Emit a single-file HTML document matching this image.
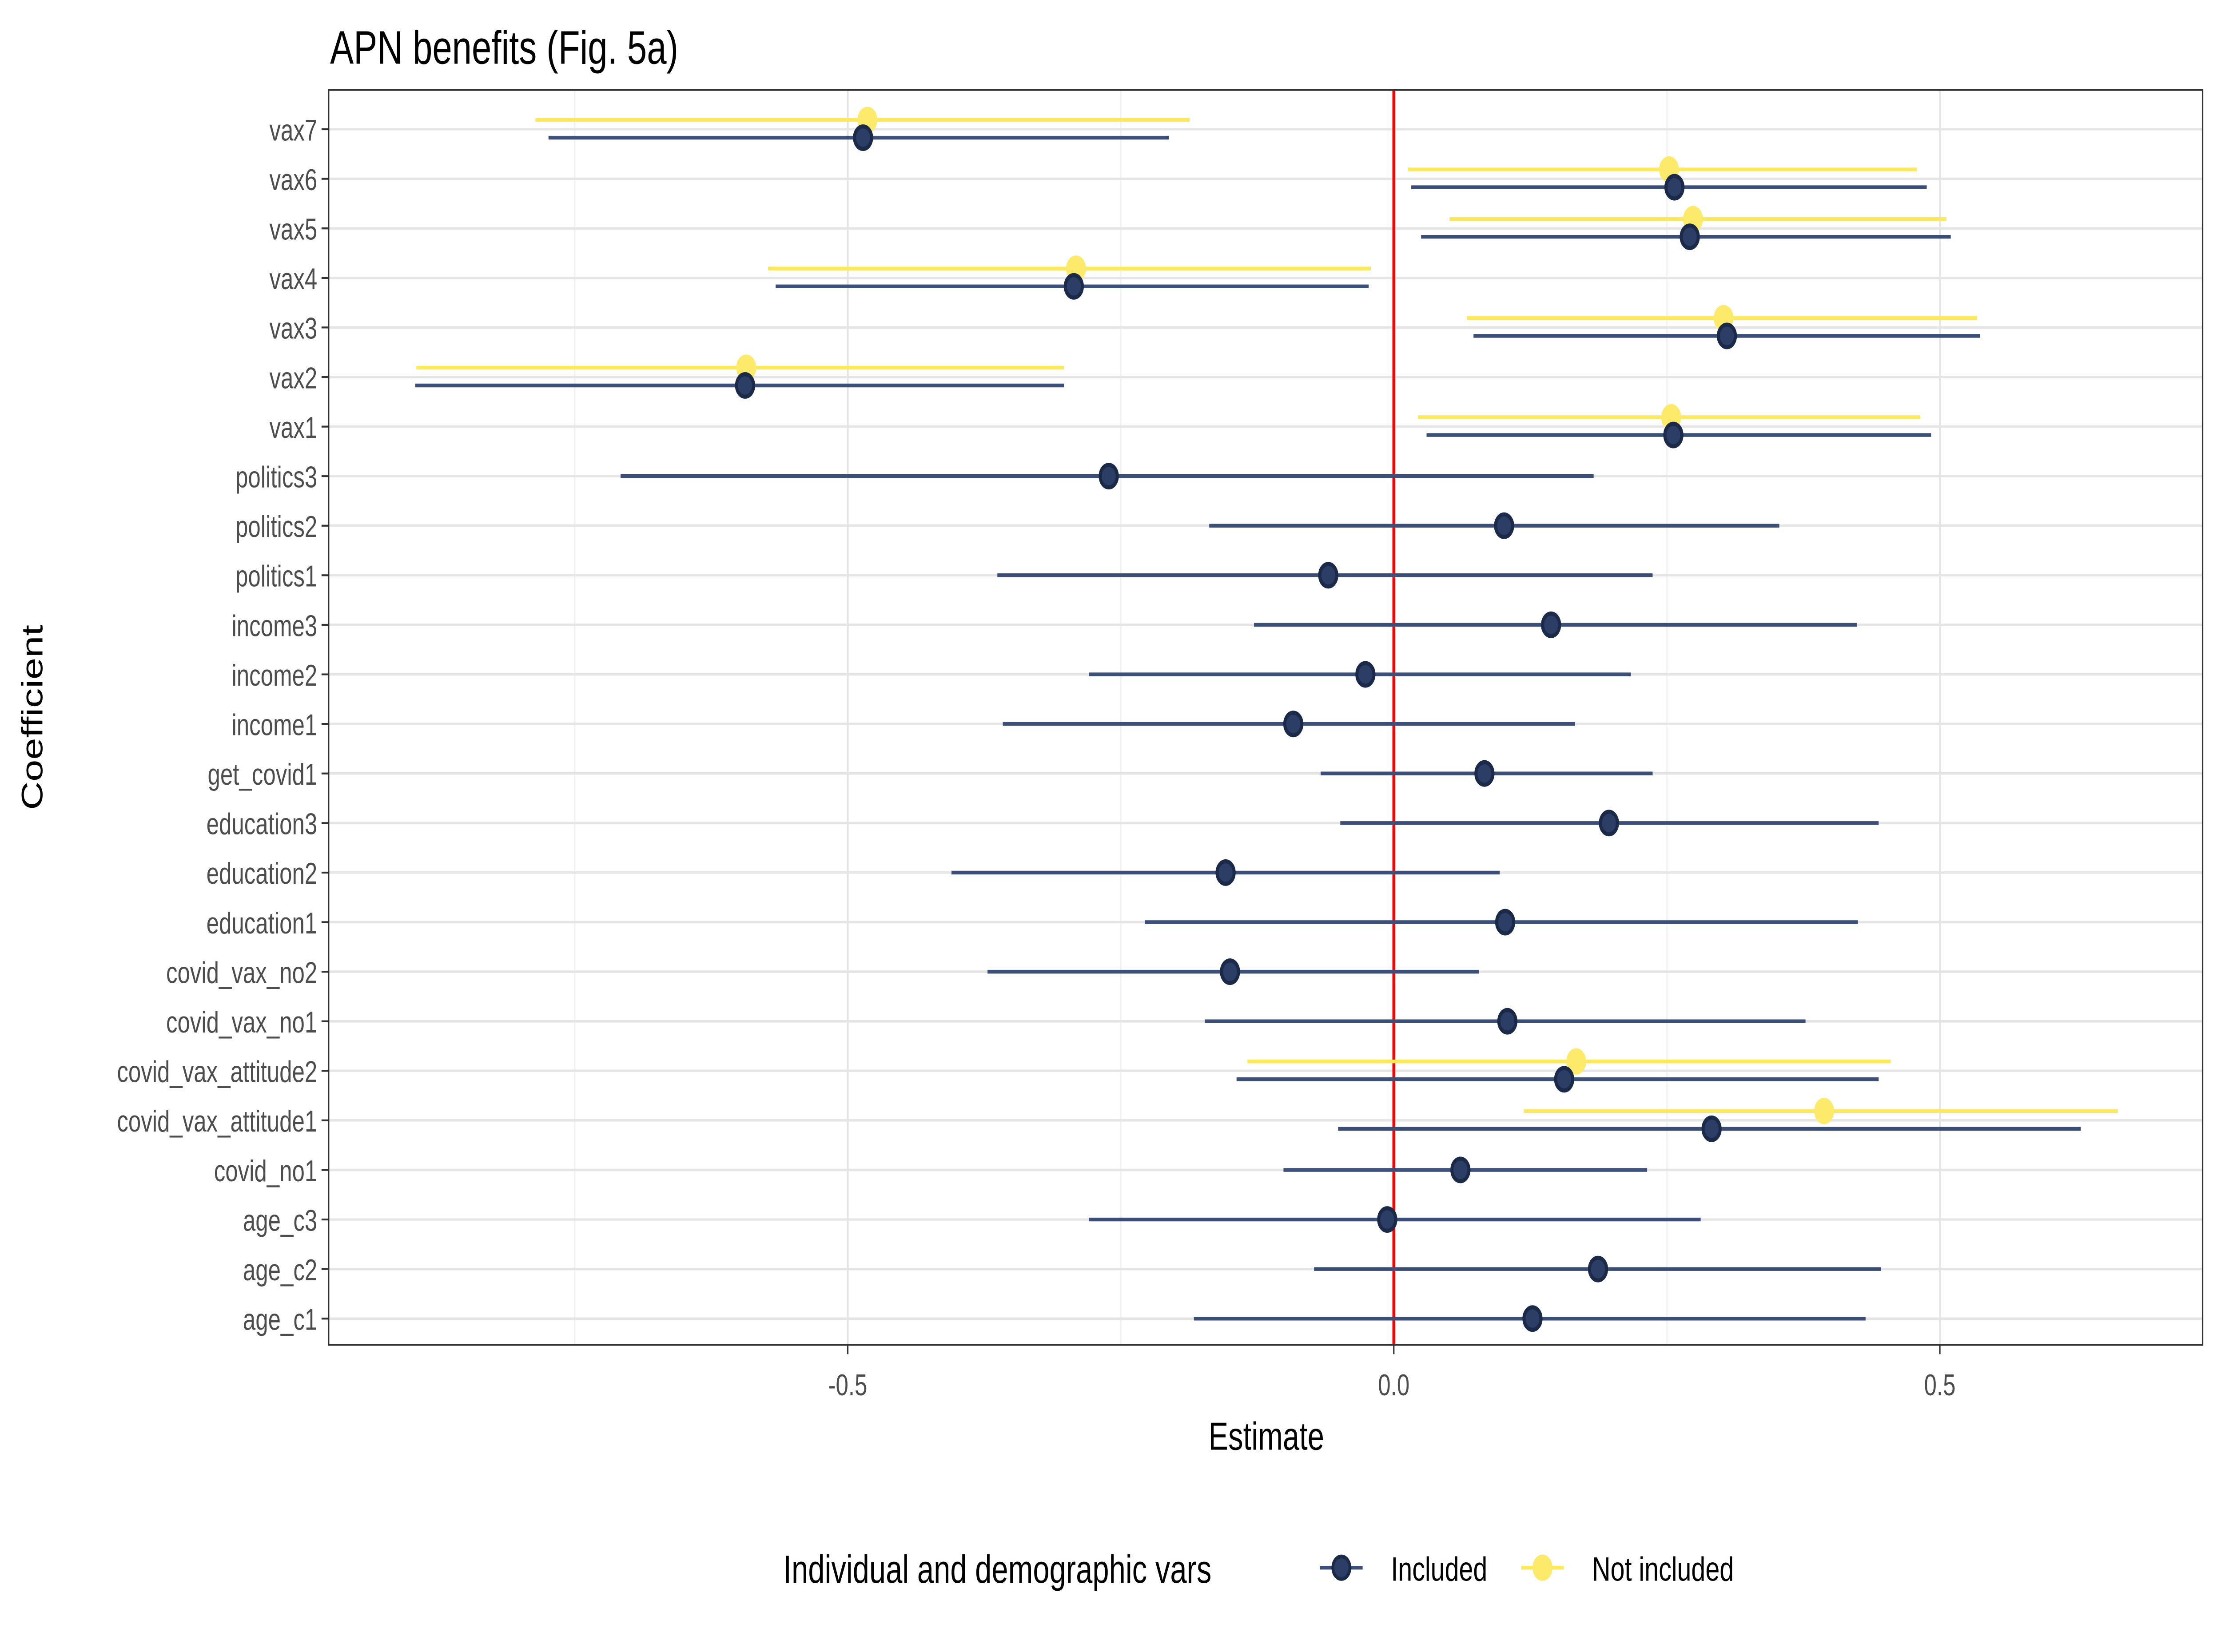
<!DOCTYPE html>
<html><head><meta charset="utf-8"><style>
html,body{margin:0;padding:0;background:#fff;width:100%;height:100%;overflow:hidden;}
svg{display:block;width:100vw;height:100vh;font-family:"Liberation Sans",Arial,sans-serif;}
</style></head><body>
<svg id="chart" viewBox="0 0 1568 882" preserveAspectRatio="none" xmlns="http://www.w3.org/2000/svg">
<rect x="0" y="0" width="1568" height="882" fill="#fff"/>
<text x="233" y="34" font-size="25" fill="#000">APN benefits (Fig. 5a)</text>
<g id="grid"></g>
<g id="marks"></g>
<rect x="232" y="48" width="1323" height="670" fill="none" stroke="#333" stroke-width="1"/>
<g id="axes"></g>
<text x="894" y="774" font-size="21" text-anchor="middle" fill="#000">Estimate</text>
<text transform="translate(30,383) rotate(-90)" font-size="21" text-anchor="middle" fill="#000">Coefficient</text>
<g>
<text x="553" y="845" font-size="21" fill="#000">Individual and demographic vars</text>
<g>
<line x1="932" y1="837" x2="962" y2="837" stroke="#3b4f79" stroke-width="2"/>
<circle cx="947" cy="837" r="6" fill="#2c3e66" stroke="#1c2a4a" stroke-width="2"/>
<text x="982" y="844" font-size="18" fill="#000">Included</text>
</g>
<g>
<line x1="1074" y1="837" x2="1104" y2="837" stroke="#fde95a" stroke-width="2"/>
<circle cx="1089" cy="837" r="7" fill="#fde96a"/>
<text x="1124" y="844" font-size="18" fill="#000">Not included</text>
</g>
</g>
</svg>
<script>
const categories=["age_c1","age_c2","age_c3","covid_no1","covid_vax_attitude1","covid_vax_attitude2","covid_vax_no1","covid_vax_no2","education1","education2","education3","get_covid1","income1","income2","income3","politics1","politics2","politics3","vax1","vax2","vax3","vax4","vax5","vax6","vax7"];
const incEst=[0.127,0.187,-0.006,0.061,0.291,0.156,0.104,-0.150,0.102,-0.154,0.197,0.083,-0.092,-0.026,0.144,-0.060,0.101,-0.261,0.256,-0.594,0.305,-0.293,0.271,0.257,-0.486];
const incLo=[-0.183,-0.073,-0.279,-0.101,-0.051,-0.144,-0.173,-0.372,-0.228,-0.405,-0.049,-0.067,-0.358,-0.279,-0.128,-0.363,-0.169,-0.708,0.030,-0.896,0.073,-0.566,0.025,0.016,-0.774];
const incHi=[0.432,0.446,0.281,0.232,0.629,0.444,0.377,0.078,0.425,0.097,0.444,0.237,0.166,0.217,0.424,0.237,0.353,0.183,0.492,-0.302,0.537,-0.023,0.510,0.488,-0.206];
const niCats=["covid_vax_attitude1","covid_vax_attitude2","vax1","vax2","vax3","vax4","vax5","vax6","vax7"];
const niEst=[0.394,0.167,0.254,-0.593,0.302,-0.291,0.274,0.252,-0.482];
const niLo=[0.119,-0.134,0.022,-0.895,0.067,-0.573,0.051,0.013,-0.786];
const niHi=[0.663,0.455,0.482,-0.302,0.534,-0.021,0.506,0.479,-0.187];
const xTicks=[-0.5,0,0.5];
const xTickLabels=["-0.5","0.0","0.5"];
const xMinor=[-0.75,-0.25,0.25];

const NS="http://www.w3.org/2000/svg";
const X=v=>984+v*771;
const Y=i=>704-i*26.458;
function mk(tag,attrs,parent){const e=document.createElementNS(NS,tag);for(const k in attrs)e.setAttribute(k,attrs[k]);parent.appendChild(e);return e;}
const grid=document.getElementById('grid'),marks=document.getElementById('marks'),axes=document.getElementById('axes');
xMinor.forEach(v=>{const l=mk('line',{x1:X(v),x2:X(v),y1:48,y2:718,stroke:'#f2f2f2','stroke-width':1},grid);

});
xTicks.forEach((v,i)=>{const l=mk('line',{x1:X(v),x2:X(v),y1:48,y2:718,stroke:'#e5e5e5','stroke-width':1.3},grid);


const t=mk('line',{x1:X(v),x2:X(v),y1:718,y2:723,stroke:'#333','stroke-width':1},axes);


const tx=mk('text',{x:X(v),y:745,'font-size':16,'text-anchor':'middle',fill:'#4d4d4d'},axes);tx.textContent=xTickLabels[i];

});
categories.forEach((c,i)=>{const l=mk('line',{x1:232,x2:1555,y1:Y(i),y2:Y(i),stroke:'#e5e5e5','stroke-width':1.3},grid);


const t=mk('line',{x1:227,x2:232,y1:Y(i),y2:Y(i),stroke:'#333','stroke-width':1},axes);


const tx=mk('text',{x:224,y:Y(i)+6,'font-size':16,'text-anchor':'end',fill:'#4d4d4d'},axes);tx.textContent=c;

});
const zl=mk('line',{x1:X(0),x2:X(0),y1:48,y2:718,stroke:'#ff0000','stroke-width':2},grid);


niCats.forEach((c,j)=>{const y=Y(categories.indexOf(c))-5;
const g=mk('g',{},marks);


mk('line',{x1:X(niLo[j]),x2:X(niHi[j]),y1:y,y2:y,stroke:'#fde95a','stroke-width':2},g);
mk('circle',{cx:X(niEst[j]),cy:y,r:7,fill:'#fde96a'},g);});
categories.forEach((c,i)=>{const y=Y(i)+(niCats.includes(c)?4.5:0);
const g=mk('g',{},marks);


mk('line',{x1:X(incLo[i]),x2:X(incHi[i]),y1:y,y2:y,stroke:'#3b4f79','stroke-width':2},g);
mk('circle',{cx:X(incEst[i]),cy:y,r:6,fill:'#2c3e66',stroke:'#1c2a4a','stroke-width':2.2},g);});
</script>
</body></html>
